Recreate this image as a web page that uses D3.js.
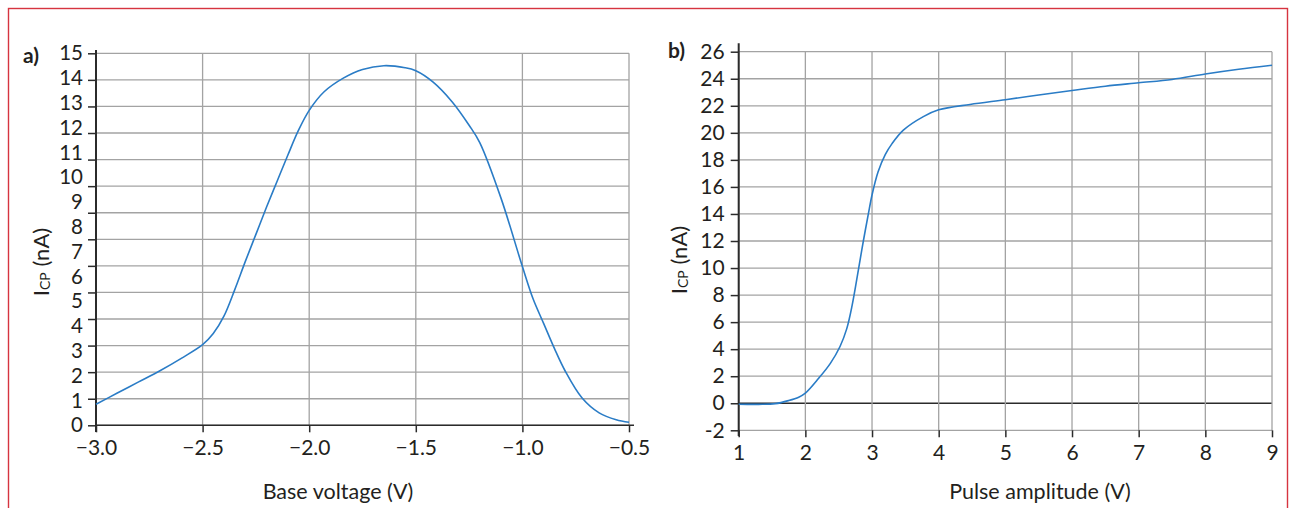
<!DOCTYPE html>
<html>
<head>
<meta charset="utf-8">
<script src="https://cdn.jsdelivr.net/npm/d3@7"></script>
<style>
body { margin: 0; background: #fff; }
text { font-family: Lato, sans-serif; fill: #231f20; }
</style>
</head>
<body>
<script>
// DONNEES - panneau a) : courant pompe de charge vs tension de base
var baseVoltage = [-3.0,-2.9,-2.8,-2.7,-2.6,-2.5,-2.45,-2.4,-2.35,-2.3,-2.25,-2.2,-2.15,-2.1,-2.05,-2.0,-1.93,-1.84,-1.75,-1.65,-1.55,-1.5,-1.42,-1.33,-1.25,-1.2,-1.1,-1.0,-0.95,-0.9,-0.85,-0.8,-0.72,-0.64,-0.56,-0.5];
var icpA = [0.85,1.3,1.75,2.2,2.7,3.25,3.7,4.4,5.45,6.6,7.7,8.8,9.85,10.9,11.9,12.7,13.45,14.0,14.35,14.5,14.42,14.3,13.85,13.05,12.1,11.4,9.15,6.4,5.1,4.1,3.1,2.2,1.1,0.5,0.22,0.12];
var xTicksA = [-3.0,-2.5,-2.0,-1.5,-1.0,-0.5];
var yTicksA = d3.range(0, 16);

// DONNEES - panneau b) : courant pompe de charge vs amplitude d'impulsion
var pulseAmp = [1.0,1.3,1.55,1.75,1.9,2.0,2.2,2.375,2.52,2.62,2.7,2.8,2.87,2.945,3.0,3.09,3.2,3.3,3.47,3.77,4.0,4.47,5.0,5.5,6.0,6.5,7.0,7.5,8.0,8.5,9.0];
var icpB = [-0.07,-0.08,-0.03,0.2,0.45,0.75,1.85,2.95,4.2,5.5,7.2,10.0,12.0,14.0,15.4,17.1,18.4,19.2,20.2,21.2,21.7,22.1,22.45,22.8,23.13,23.45,23.7,23.95,24.35,24.7,25.0];
var xTicksB = d3.range(1, 10);
var yTicksB = d3.range(-2, 27, 2);

var W = 1290, H = 508;
var gridCol = "#a3a3a3", axisCol = "#2b2b2b", lineCol = "#2a7cc6";
var fnt = "Lato";

var svg = d3.select("body").append("svg")
    .attr("width", W)
    .attr("height", H);

// cadre rouge
svg.append("rect")
    .attr("x", 8.5).attr("y", 8.5)
    .attr("width", 1279).attr("height", 520)
    .attr("fill", "none")
    .attr("stroke", "#d6343f")
    .attr("stroke-width", 1.4);

// ECHELLES panneau a
var xA = d3.scaleLinear().domain([-3, -0.5]).range([96, 629]);
var yA = d3.scaleLinear().domain([0, 15]).range([425.3, 53.3]);
// la grille de la figure d'origine n'a que 14 intervalles
var gridA = d3.scaleLinear().domain([0, 14]).range([425.3, 53.3]);

// ECHELLES panneau b
var xB = d3.scaleLinear().domain([1, 9]).range([738.7, 1272]);
var yB = d3.scaleLinear().domain([-2, 26]).range([430.3, 51.7]);

// GRILLE a
var ga = svg.append("g");
ga.selectAll(".hg").data(d3.range(15)).enter().append("line")
    .attr("x1", xA(-3)).attr("x2", xA(-0.5))
    .attr("y1", function(d) { return gridA(d); })
    .attr("y2", function(d) { return gridA(d); })
    .attr("stroke", gridCol).attr("stroke-width", 1.3);
ga.selectAll(".vg").data(xTicksA).enter().append("line")
    .attr("x1", function(d) { return xA(d); })
    .attr("x2", function(d) { return xA(d); })
    .attr("y1", gridA(14)).attr("y2", gridA(0))
    .attr("stroke", gridCol).attr("stroke-width", 1.3);

// GRILLE b
var gb = svg.append("g");
gb.selectAll(".hg").data(yTicksB).enter().append("line")
    .attr("x1", xB(1)).attr("x2", xB(9))
    .attr("y1", function(d) { return yB(d); })
    .attr("y2", function(d) { return yB(d); })
    .attr("stroke", function(d) { return d == 0 ? axisCol : gridCol; })
    .attr("stroke-width", function(d) { return d == 0 ? 1.5 : 1.3; });
gb.selectAll(".vg").data(xTicksB).enter().append("line")
    .attr("x1", function(d) { return xB(d); })
    .attr("x2", function(d) { return xB(d); })
    .attr("y1", yB(26)).attr("y2", yB(-2))
    .attr("stroke", gridCol).attr("stroke-width", 1.3);

// AXES a
var axA_ticks = svg.append("g")
    .attr("transform", "translate(" + xA(-3) + ",0)")
    .call(d3.axisLeft(gridA).tickValues(d3.range(15)).tickSize(8).tickFormat(""));
axA_ticks.select(".domain").remove();
axA_ticks.selectAll("line").attr("stroke", axisCol).attr("stroke-width", 1.5);

var axA_lab = svg.append("g")
    .attr("transform", "translate(" + xA(-3) + ",0)")
    .call(d3.axisLeft(yA).tickValues(yTicksA).tickSize(0).tickPadding(13).tickFormat(d3.format("d")));
axA_lab.select(".domain").remove();
axA_lab.selectAll("text").attr("font-size", 20.5).attr("font-family", fnt).attr("fill", "#231f20");

svg.append("line")
    .attr("x1", xA(-3)).attr("x2", xA(-3))
    .attr("y1", 50).attr("y2", 432)
    .attr("stroke", axisCol).attr("stroke-width", 2);

var axAx = svg.append("g")
    .attr("transform", "translate(0," + yA(0) + ")")
    .call(d3.axisBottom(xA).tickValues(xTicksA).tickSize(7).tickPadding(8).tickFormat(d3.format(".1f")));
axAx.select(".domain").remove();
axAx.selectAll("line").attr("stroke", axisCol).attr("stroke-width", 1.5);
axAx.selectAll("text").attr("font-size", 21).attr("font-family", fnt).attr("fill", "#231f20");
svg.append("line")
    .attr("x1", xA(-3)).attr("x2", xA(-0.5) + 5)
    .attr("y1", yA(0)).attr("y2", yA(0))
    .attr("stroke", axisCol).attr("stroke-width", 1.5);

// AXES b
var axBy = svg.append("g")
    .attr("transform", "translate(" + xB(1) + ",0)")
    .call(d3.axisLeft(yB).tickValues(yTicksB).tickSize(8).tickPadding(6)
        .tickFormat(function(d) { return d < 0 ? "-" + (-d) : d; }));
axBy.select(".domain").remove();
axBy.selectAll("line").attr("stroke", axisCol).attr("stroke-width", 1.5);
axBy.selectAll("text").attr("font-size", 21).attr("font-family", fnt).attr("fill", "#231f20");
svg.append("line")
    .attr("x1", xB(1)).attr("x2", xB(1))
    .attr("y1", 43.3).attr("y2", 436)
    .attr("stroke", axisCol).attr("stroke-width", 2);

var axBx = svg.append("g")
    .attr("transform", "translate(0," + yB(-2) + ")")
    .call(d3.axisBottom(xB).tickValues(xTicksB).tickSize(7).tickPadding(8));
axBx.select(".domain").remove();
axBx.selectAll("line").attr("stroke", axisCol).attr("stroke-width", 1.5);
axBx.selectAll("text").attr("font-size", 21).attr("font-family", fnt).attr("fill", "#231f20");

// COURBES
var lineA = d3.line()
    .x(function(d, i) { return xA(baseVoltage[i]); })
    .y(function(d) { return yA(d); })
    .curve(d3.curveCatmullRom.alpha(0.5));
svg.append("path")
    .datum(icpA)
    .attr("fill", "none")
    .attr("stroke", lineCol)
    .attr("stroke-width", 1.6)
    .attr("d", lineA);

var lineB = d3.line()
    .x(function(d, i) { return xB(pulseAmp[i]); })
    .y(function(d) { return yB(d); })
    .curve(d3.curveCatmullRom.alpha(0.5));
svg.append("path")
    .datum(icpB)
    .attr("fill", "none")
    .attr("stroke", lineCol)
    .attr("stroke-width", 1.6)
    .attr("d", lineB);

// TITRES
svg.append("text").attr("x", 23).attr("y", 63)
    .attr("font-size", 21).attr("font-weight", "bold").text("a)");
svg.append("text").attr("x", 668).attr("y", 58)
    .attr("font-size", 21).attr("font-weight", "bold").text("b)");

svg.append("text").attr("x", 338).attr("y", 499)
    .attr("text-anchor", "middle").attr("font-size", 21.5).text("Base voltage (V)");
svg.append("text").attr("x", 1040).attr("y", 499)
    .attr("text-anchor", "middle").attr("font-size", 21.5).text("Pulse amplitude (V)");

function yTitle(x, y) {
  var t = svg.append("text")
      .attr("transform", "translate(" + x + "," + y + ") rotate(-90)")
      .attr("text-anchor", "middle")
      .attr("font-size", 22);
  t.append("tspan").text("I");
  t.append("tspan").attr("font-size", 14).attr("dy", 1).text("CP");
  t.append("tspan").attr("dy", -1).text(" (nA)");
}
yTitle(49, 262);
yTitle(687, 260);
</script>
</body>
</html>
